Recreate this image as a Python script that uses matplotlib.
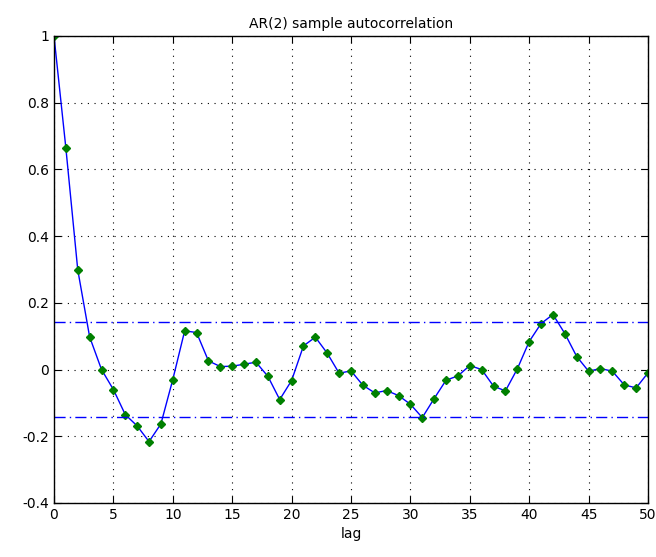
import matplotlib.pyplot as plt
import numpy as np

# sample autocorrelation values, lags 0..50
lags = np.arange(51)
acf = [1.0, 0.664, 0.299, 0.098, 0.0, -0.06, -0.135, -0.169, -0.216, -0.163,
       -0.03, 0.116, 0.111, 0.026, 0.009, 0.01, 0.016, 0.022, -0.02, -0.09,
       -0.033, 0.071, 0.097, 0.049, -0.011, -0.004, -0.047, -0.07, -0.063, -0.078,
       -0.104, -0.144, -0.087, -0.032, -0.019, 0.012, 0.0, -0.05, -0.064, 0.002,
       0.084, 0.138, 0.165, 0.108, 0.039, -0.005, 0.003, -0.005, -0.046, -0.055,
       -0.01]
conf_bound = 0.143

xticks = np.arange(0, 51, 5)
yticks = [-0.4, -0.2, 0, 0.2, 0.4, 0.6, 0.8, 1]
ytick_labels = ["-0.4", "-0.2", "0", "0.2", "0.4", "0.6", "0.8", "1"]

fig = plt.figure(figsize=(6.56, 5.57), dpi=100)
ax = fig.add_axes([0.0823, 0.097, 0.9055, 0.8384])

ax.plot(lags, acf, color="blue", linewidth=1, marker="D", markersize=4,
        markerfacecolor=(0, 0.5, 0), markeredgecolor=(0, 0.5, 0))
ax.axhline(conf_bound, color="blue", linestyle=(0, (8, 3, 1, 3)), linewidth=1)
ax.axhline(-conf_bound, color="blue", linestyle=(0, (8, 3, 1, 3)), linewidth=1)

ax.set_xlim(0, 50)
ax.set_ylim(-0.4, 1)
ax.set_xticks(xticks)
ax.set_yticks(yticks)
ax.set_yticklabels(ytick_labels)
ax.grid(True, color="black", linestyle=(0, (1, 5)), linewidth=0.8)
ax.tick_params(direction="in", top=True, right=True, length=5, labelsize=10)
for s in ax.spines.values():
    s.set_linewidth(1)

ax.set_title("AR(2) sample autocorrelation", fontsize=10)
ax.set_xlabel("lag", fontsize=10)

fig.savefig("out.png", dpi=100)
